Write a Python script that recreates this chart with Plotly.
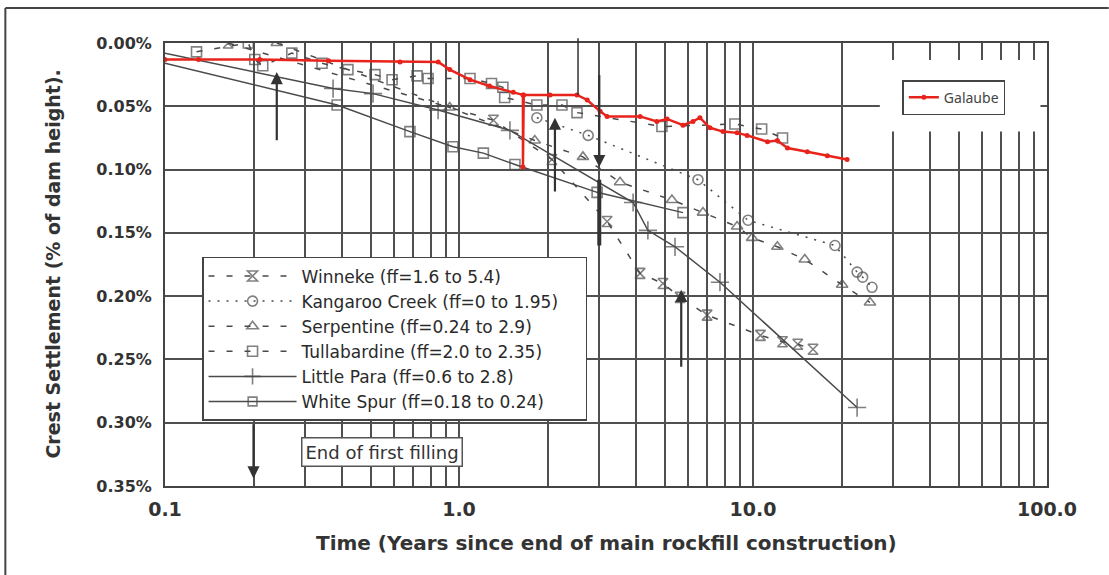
import numpy as np
import plotly.graph_objects as go

# values (time in years, settlement in % of dam height)
galaube_t = [0.10, 0.13, 0.21, 0.36, 0.63, 0.85, 0.93, 1.09, 1.27, 1.53, 1.65, 1.65, 1.66, 2.04, 2.52,
             2.73, 3.02, 3.19, 4.13, 4.71, 5.10, 5.78, 6.25, 6.60, 7.14, 7.91, 8.83, 9.55, 11.2, 12.1,
             13.1, 15.3, 17.9, 20.9]
galaube_s = [0.013, 0.013, 0.013, 0.014, 0.015, 0.015, 0.021, 0.029, 0.034, 0.039, 0.041, 0.098, 0.041, 0.041, 0.041,
             0.045, 0.054, 0.058, 0.058, 0.062, 0.060, 0.065, 0.062, 0.059, 0.067, 0.070, 0.071, 0.073, 0.078, 0.077,
             0.083, 0.086, 0.089, 0.092]

winneke_t = [0.164, 1.31, 2.07, 3.19, 4.13, 4.94, 5.65, 6.98, 10.6, 12.6, 14.2, 16.0]
winneke_s = [0.000, 0.061, 0.092, 0.141, 0.182, 0.190, 0.201, 0.215, 0.231, 0.236, 0.238, 0.242]

kangaroo_t = [1.84, 2.75, 6.50, 9.62, 19.0, 22.6, 23.6, 25.4]
kangaroo_s = [0.059, 0.073, 0.108, 0.140, 0.160, 0.181, 0.185, 0.193]

serp_t = [0.240, 0.93, 1.81, 2.64, 3.53, 5.30, 6.76, 8.83, 9.93, 12.1, 15.0, 20.1, 25.0]
serp_s = [0.000, 0.051, 0.077, 0.090, 0.110, 0.124, 0.134, 0.145, 0.154, 0.161, 0.171, 0.191, 0.205]

tulla_t = [0.128, 0.192, 0.202, 0.215, 0.270, 0.342, 0.419, 0.518, 0.592, 0.720, 0.785, 1.09, 1.29, 1.41,
           1.43, 1.84, 2.24, 2.52, 4.90, 8.68, 10.7, 12.6]
tulla_s = [0.007, 0.000, 0.013, 0.018, 0.008, 0.016, 0.021, 0.025, 0.029, 0.026, 0.028, 0.028, 0.032, 0.035,
           0.043, 0.049, 0.049, 0.055, 0.066, 0.064, 0.068, 0.075]

para_t = [0.10, 0.373, 0.510, 0.849, 1.49, 3.91, 4.39, 5.43, 7.72, 22.6]
para_s = [0.008, 0.036, 0.040, 0.053, 0.069, 0.126, 0.148, 0.161, 0.189, 0.288]

spur_t = [0.10, 0.385, 0.681, 0.954, 1.21, 1.55, 2.95, 5.78]
spur_s = [0.016, 0.049, 0.070, 0.082, 0.087, 0.096, 0.118, 0.134]

y_ticks = [0.00, 0.05, 0.10, 0.15, 0.20, 0.25, 0.30, 0.35]
x_ticks = [0.1, 1.0, 10.0, 100.0]
x_ticktext = ['0.1', '1.0', '10.0', '100.0']

# end of first filling arrows: (time, tail, head)
arrows = [(0.24, 0.078, 0.023), (2.12, 0.1185, 0.059), (5.7, 0.257, 0.195),
          (3.0, 0.024, 0.098), (0.2, 0.300, 0.344)]

GREY = '#4a4a4a'
GRID = '#505050'
FONT = 'DejaVu Sans, sans-serif'
PAD = '\u00a0' * 4  # widen the legend box like the scan

fig = go.Figure()

series = [
    ('Winneke (ff=1.6 to 5.4)', winneke_t, winneke_s, 'hourglass-open', '6px,12px', 10),
    ('Kangaroo Creek (ff=0 to 1.95)', kangaroo_t, kangaroo_s, 'circle-open', '2px,7px', 10),
    ('Serpentine (ff=0.24 to 2.9)', serp_t, serp_s, 'triangle-up-open', '6px,12px', 10),
    ('Tullabardine (ff=2.0 to 2.35)', tulla_t, tulla_s, 'square-open', '6px,12px', 10),
    ('Little Para (ff=0.6 to 2.8)', para_t, para_s, 'cross-thin-open', 'solid', 13),
    ('White Spur (ff=0.18 to 0.24)', spur_t, spur_s, 'square-open', 'solid', 10),
]
for name, t, s, sym, dash, size in series:
    sizes = [size] * len(t)
    if dash == 'solid':
        sizes[0] = 0  # lines start at the axis without a marker
    fig.add_trace(go.Scatter(
        x=t, y=s, name=name + PAD, mode='lines+markers',
        line=dict(color=GREY, width=1.5, dash=dash),
        marker=dict(symbol=sym, size=sizes, color=GREY, line=dict(color=GREY, width=1.6)),
        legend='legend'))

fig.add_trace(go.Scatter(
    x=galaube_t, y=galaube_s, name='Galaube', mode='lines+markers',
    line=dict(color='#e8231b', width=2.5),
    marker=dict(symbol='circle', size=5, color='#e8231b'),
    legend='legend2'))

# end of first filling arrows
for t, tail, head in arrows:
    fig.add_annotation(x=np.log10(t), y=head, ax=np.log10(t), ay=tail, xref='x', yref='y',
                       axref='x', ayref='y', text='', showarrow=True, arrowhead=2,
                       arrowsize=1.1, arrowwidth=2.2, arrowcolor='#333333')
fig.add_annotation(x=np.log10(2.54), y=0.041, ax=np.log10(2.54), ay=-0.005, xref='x', yref='y',
                   axref='x', ayref='y', text='', showarrow=True, arrowhead=0,
                   arrowwidth=1.5, arrowcolor='#333333')
fig.add_annotation(x=np.log10(2.54), y=-0.006, xref='x', yref='y', text="Fim de l'enc",
                   showarrow=False, xanchor='left', yanchor='bottom',
                   font=dict(family=FONT, size=7, color='#333333'))
fig.add_shape(type='line', x0=3.0, x1=3.0, y0=0.108, y1=0.160,
              xref='x', yref='y', line=dict(color='#333333', width=4))

fig.add_annotation(x=0.246, y=0.077, xref='paper', yref='paper', text='End of first filling',
                   xanchor='center', yanchor='middle',
                   showarrow=False, bgcolor='white', bordercolor='#555555', borderwidth=1.5,
                   borderpad=3, font=dict(family=FONT, size=18, color='#333333'))

# white patch behind the Galaube legend, covering part of the grid
fig.add_shape(type='rect', x0=27, x1=95, y0=0.0134, y1=0.070,
              xref='x', yref='y', fillcolor='white', line=dict(width=0), layer='between')

# outer frame of the scanned figure (top and left edges)
fig.add_shape(type='line', xref='paper', yref='paper', x0=-0.181, x1=1.07, y0=1.079, y1=1.079,
              line=dict(color='#444444', width=2))
fig.add_shape(type='line', xref='paper', yref='paper', x0=-0.181, x1=-0.181, y0=1.079, y1=-0.21,
              line=dict(color='#444444', width=2))

# axis titles
fig.add_annotation(x=-0.128, y=0.50, xref='paper', yref='paper', textangle=-90,
                   xanchor='center', yanchor='middle',
                   text='Crest Settlement (% of dam height).', showarrow=False,
                   font=dict(family=FONT, size=19, color='#333333', weight='bold'))
fig.add_annotation(x=0.5, y=-0.129, xref='paper', yref='paper', xanchor='center', yanchor='middle',
                   text='Time (Years since end of main rockfill construction)', showarrow=False,
                   font=dict(family=FONT, size=20, color='#333333', weight='bold'))

fig.update_xaxes(type='log', range=[-1, 2], tickvals=x_ticks, ticktext=x_ticktext,
                 showgrid=True, gridcolor=GRID, gridwidth=1.5,
                 minor=dict(dtick='D1', showgrid=True, gridcolor=GRID, gridwidth=1.5, ticks=''),
                 showline=True, mirror=True, linecolor='#444444', linewidth=2, ticks='',
                 ticklabelstandoff=5, zeroline=False,
                 tickfont=dict(family=FONT, size=19, color='#333333', weight='bold'))
fig.update_yaxes(range=[0.35, 0.0], tickvals=y_ticks,
                 ticktext=['%.2f%%' % v for v in y_ticks],
                 showgrid=True, gridcolor=GRID, gridwidth=2.2, zeroline=False,
                 showline=True, mirror=True, linecolor='#444444', linewidth=2, ticks='',
                 ticklabelstandoff=8,
                 tickfont=dict(family=FONT, size=16, color='#333333', weight='bold'))

fig.update_layout(
    width=1109, height=575, autosize=False,
    margin=dict(l=165, r=62, t=43, b=89),
    plot_bgcolor='white', paper_bgcolor='white',
    showlegend=True,
    legend=dict(x=0.042, y=0.517, xanchor='left', yanchor='top', bgcolor='white',
                bordercolor='#444444', borderwidth=1.5, itemwidth=88,
                font=dict(family=FONT, size=17, color='#2a2a2a')),
    legend2=dict(x=0.836, y=0.916, xanchor='left', yanchor='top', bgcolor='white',
                 bordercolor='#444444', borderwidth=1.5, itemwidth=30,
                 font=dict(family='Noto Sans, sans-serif', size=14, color='#444444')),
)

fig.write_html("out.html", config={'displayModeBar': False},
               post_script="document.body.style.margin='0';")
